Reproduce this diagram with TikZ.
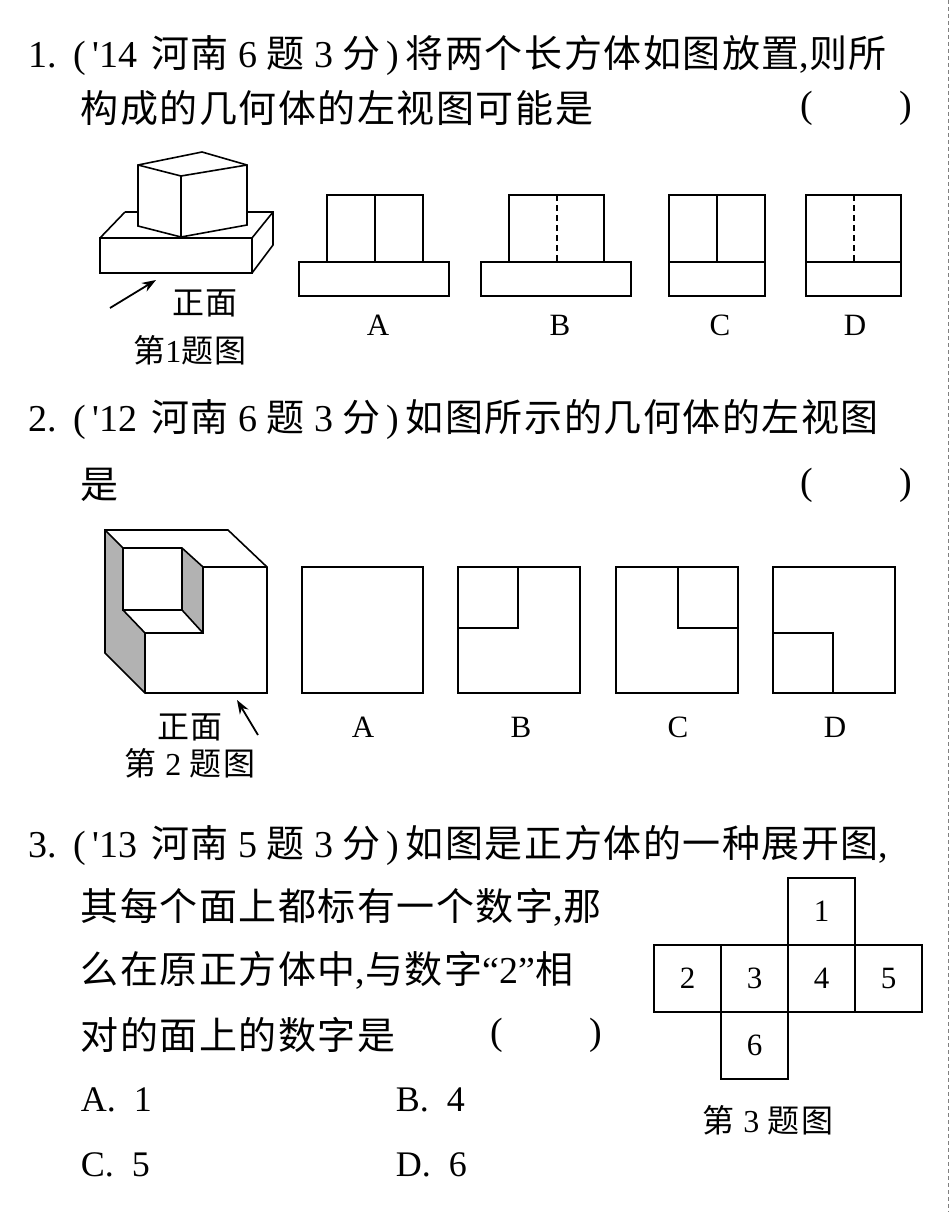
\documentclass[tikz,border=0pt]{standalone}
\usepackage{fontspec}
\usetikzlibrary{arrows.meta}
\setmainfont[LetterSpace=4]{Noto Sans CJK SC}
\newfontfamily\lt{Liberation Serif}
\begin{document}
\begin{tikzpicture}[x=1pt,y=-1pt,line width=1.6pt,line join=miter,
  txt/.style={inner sep=0pt,font=\fontsize{38}{44}\selectfont},
  lbl/.style={inner sep=0pt,font=\fontsize{31}{34}\selectfont\lt},
  figcap/.style={inner sep=0pt,font=\fontsize{32}{36}\selectfont},
  arr/.style={-{Stealth[length=14pt,width=10pt]},line width=1.8pt}]
\useasboundingbox (0,0) rectangle (950,1212);
\draw[gray,dash pattern=on 4pt off 3pt,line width=1pt] (948,0) -- (948,1212);
% Question 1 text
\node[txt,anchor=west] (q1a) at (28,55) {{\lt 1.\hspace{16pt}(\,'14\hspace{14pt}}河南{\lt\ 6\ }题{\lt\ 3\ }分{\lt\,)\,}将两个长方体如图放置{\lt ,}则所};
\node[txt,anchor=west] (q1b) at (80,108) {构成的几何体的左视图可能是};
\node[txt,anchor=west] (q1p) at (800,108) {\lt (\hspace{86pt})};
% Figure 1
\draw (125,212) -- (273,212) -- (273,245) -- (252,273);
\draw (100,238) -- (125,212);
\draw (252,238) -- (273,212);
\draw[fill=white] (100,238) rectangle (252,273);
\draw[fill=white] (138,165) -- (202,152) -- (247,165) -- (247,225) -- (181,237) -- (138,226) -- cycle;
\draw (138,165) -- (181,176) -- (247,165);
\draw (181,176) -- (181,237);
\coordinate (a1s) at (110,308); \coordinate (a1e) at (156,280);
\draw[arr] (a1s) -- (a1e);
\node[figcap] (f1z) at (205,303) {正面};
\node[figcap] (f1c) at (190,350) {第{\lt 1}题图};
% views
\draw (327,195) rectangle (423,262) (375,195) -- (375,262) (299,262) rectangle (449,296);
\draw (509,195) rectangle (604,262) (481,262) rectangle (631,296);
\draw[dash pattern=on 6pt off 4pt,line width=1.4pt] (557,195) -- (557,262);
\draw (669,195) rectangle (765,262) (717,195) -- (717,262) (669,262) rectangle (765,296);
\draw (806,195) rectangle (901,262) (806,262) rectangle (901,296);
\draw[dash pattern=on 6pt off 4pt,line width=1.4pt] (854,195) -- (854,262);
\node[lbl] (l1a) at (378,325) {A};
\node[lbl] (l1b) at (560,325) {B};
\node[lbl] (l1c) at (720,325) {C};
\node[lbl] (l1d) at (855,325) {D};
% Question 2
\node[txt,anchor=west] (q2a) at (28,420) {{\lt 2.\hspace{16pt}(\,'12\hspace{14pt}}河南{\lt\ 6\ }题{\lt\ 3\ }分{\lt\,)\,}如图所示的几何体的左视图};
\node[txt,anchor=west] (q2b) at (80,485) {是};
\node[txt,anchor=west] (q2p) at (800,485) {\lt (\hspace{86pt})};
% Figure 2
\fill[gray!60] (105,530) -- (123,548) -- (123,610) -- (145,633) -- (145,693) -- (105,653) -- cycle;
\fill[gray!60] (182,548) -- (203,567) -- (203,633) -- (182,610) -- cycle;
\draw (105,530) -- (228,530) -- (267,567) -- (267,693) -- (145,693) -- (105,653) -- cycle;
\draw (105,530) -- (123,548) -- (182,548) -- (203,567) -- (267,567);
\draw (123,548) -- (123,610) -- (182,610) -- (182,548);
\draw (123,610) -- (145,633) -- (203,633) -- (203,567);
\draw (182,610) -- (203,633);
\draw (145,633) -- (145,693);
\coordinate (a2s) at (258,735); \coordinate (a2e) at (237,700);
\draw[arr] (a2s) -- (a2e);
\node[figcap] (f2z) at (190,727) {正面};
\node[figcap] (f2c) at (190,763) {第 {\lt 2} 题图};
\draw (302,567) rectangle (423,693);
\draw (458,567) rectangle (580,693) (518,567) -- (518,628) -- (458,628);
\draw (616,567) rectangle (738,693) (678,567) -- (678,628) -- (738,628);
\draw (773,567) rectangle (895,693) (773,633) -- (833,633) -- (833,693);
\node[lbl] (l2a) at (363,727) {A};
\node[lbl] (l2b) at (521,727) {B};
\node[lbl] (l2c) at (678,727) {C};
\node[lbl] (l2d) at (835,727) {D};
% Question 3
\node[txt,anchor=west] (q3a) at (28,845) {{\lt 3.\hspace{16pt}(\,'13\hspace{14pt}}河南{\lt\ 5\ }题{\lt\ 3\ }分{\lt\,)\,}如图是正方体的一种展开图{\lt ,}};
\node[txt,anchor=west] (q3b) at (80,907) {其每个面上都标有一个数字{\lt ,}那};
\node[txt,anchor=west] (q3c) at (80,970) {么在原正方体中{\lt ,}与数字{\lt “2”}相};
\node[txt,anchor=west] (q3d) at (80,1035) {对的面上的数字是};
\node[txt,anchor=west] (q3p) at (490,1035) {\lt (\hspace{86pt})};
\node[txt,anchor=west,font=\fontsize{36}{40}\selectfont\lt] (oa) at (80,1100) {A.\ \ 1};
\node[txt,anchor=west,font=\fontsize{36}{40}\selectfont\lt] (ob) at (395,1100) {B.\ \ 4};
\node[txt,anchor=west,font=\fontsize{36}{40}\selectfont\lt] (oc) at (80,1165) {C.\ \ 5};
\node[txt,anchor=west,font=\fontsize{36}{40}\selectfont\lt] (od) at (395,1165) {D.\ \ 6};
% net
\foreach \x/\y/\n in {788/878/1,654/945/2,721/945/3,788/945/4,855/945/5,721/1012/6}
  \draw (\x,\y) rectangle ++(67,67) node[midway,lbl] {\n};
\node[figcap] (f3c) at (768,1120) {第 {\lt 3} 题图};
\end{tikzpicture}
\end{document}
